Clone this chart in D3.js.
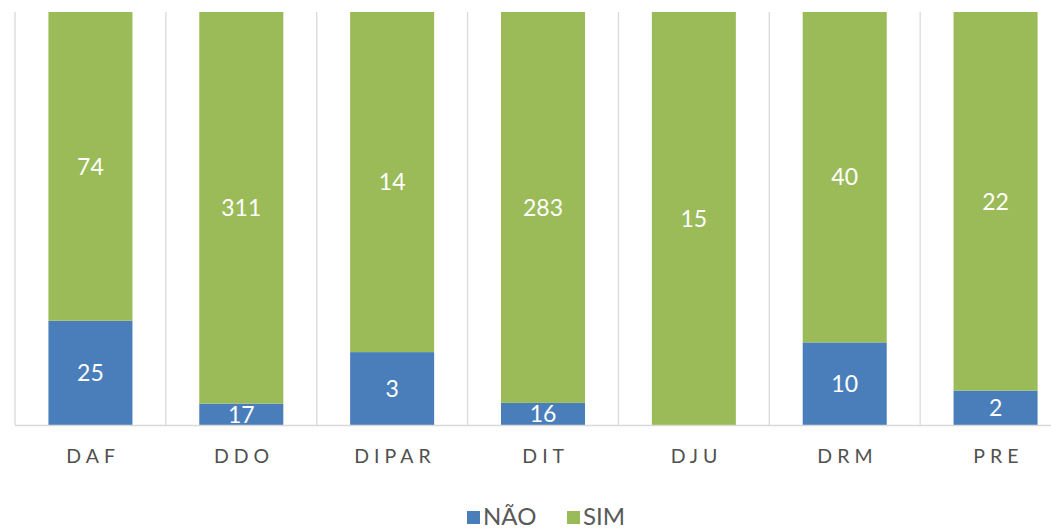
<!DOCTYPE html>
<html>
<head>
<meta charset="utf-8">
<script src="https://cdn.jsdelivr.net/npm/d3@7"></script>
<style>
  html, body { margin: 0; padding: 0; background: #ffffff; }
  svg { display: block; }
</style>
</head>
<body>
<svg id="chart" width="1051" height="529"></svg>
<script>
// Units and their answer counts
const categories = ["DAF", "DDO", "DIPAR", "DIT", "DJU", "DRM", "PRE"];
const naoValues  = [25, 17, 3, 16, 0, 10, 2];
const simValues  = [74, 311, 14, 283, 15, 40, 22];
const seriesNames = ["NÃO", "SIM"];
const seriesColors = ["#4A7EBB", "#9BBB59"];

const svg = d3.select("#chart");
const W = 1051, H = 529;
const plot = { left: 15, right: 1071, top: 12, bottom: 425 };

// Build 100% stacked rows
const rows = categories.map((c, i) => {
  const total = naoValues[i] + simValues[i];
  return { cat: c, "NÃO": naoValues[i], "SIM": simValues[i], total };
});
const stack = d3.stack()
  .keys(seriesNames)
  .value((d, k) => d[k] / d.total);
const layers = stack(rows);

const x = d3.scaleBand()
  .domain(categories)
  .range([plot.left, plot.right])
  .paddingInner(0.443)
  .paddingOuter(0.2215);

const y = d3.scaleLinear().domain([0, 1]).range([plot.bottom, plot.top]);
const color = d3.scaleOrdinal().domain(seriesNames).range(seriesColors);

// Vertical category separators
const step = x.step();
const sepX = d3.range(categories.length + 1).map(i => plot.left + i * step);
svg.append("g")
  .selectAll("line")
  .data(sepX)
  .join("line")
  .attr("x1", d => d).attr("x2", d => d)
  .attr("y1", plot.top).attr("y2", plot.bottom)
  .attr("stroke", "#d9d9d9").attr("stroke-width", 1.3);

// Bars
const gLayers = svg.append("g")
  .selectAll("g")
  .data(layers)
  .join("g")
  .attr("fill", d => color(d.key));

gLayers.selectAll("rect")
  .data(d => d.map(p => ({ p, key: d.key })))
  .join("rect")
  .attr("x", d => x(d.p.data.cat))
  .attr("width", x.bandwidth())
  .attr("y", d => y(d.p[1]))
  .attr("height", d => y(d.p[0]) - y(d.p[1]));

// Category axis
const xAxis = d3.axisBottom(x).tickSize(0).tickPadding(0);
const gx = svg.append("g")
  .attr("transform", `translate(0,${plot.bottom})`)
  .call(xAxis);
gx.select(".domain").remove();
svg.append("line")
  .attr("x1", plot.left).attr("x2", W)
  .attr("y1", plot.bottom + 0.5).attr("y2", plot.bottom + 0.5)
  .attr("stroke", "#d9d9d9").attr("stroke-width", 1.3);
gx.selectAll("text")
  .attr("y", 38)
  .attr("dy", 0)
  .attr("dx", "0.14em")
  .style("font-family", "Lato, 'Open Sans', sans-serif")
  .style("font-size", "19.5px")
  .style("letter-spacing", "5px")
  .style("fill", "#505050");

// Data labels inside each segment
const labelG = svg.append("g");
layers.forEach(layer => {
  labelG.selectAll(null)
    .data(layer.filter(p => p.data[layer.key] > 0))
    .join("text")
    .attr("x", p => x(p.data.cat) + x.bandwidth() / 2)
    .attr("y", p => (y(p[0]) + y(p[1])) / 2)
    .attr("dy", "0.36em")
    .attr("text-anchor", "middle")
    .style("font-family", "Lato, 'Open Sans', sans-serif")
    .style("font-size", "23px")
    .style("fill", "#ffffff")
    .text(p => p.data[layer.key]);
});

// Legend
const legend = svg.append("g").attr("transform", "translate(467,0)");
const legendItems = [
  { name: seriesNames[0], x: 0 },
  { name: seriesNames[1], x: 100 }
];
const li = legend.selectAll("g")
  .data(legendItems)
  .join("g")
  .attr("transform", d => `translate(${d.x},0)`);
li.append("rect")
  .attr("x", 0).attr("y", 511)
  .attr("width", 13).attr("height", 13)
  .attr("fill", d => color(d.name));
li.append("text")
  .attr("x", 16).attr("y", 525)
  .style("font-family", "Lato, 'Open Sans', sans-serif")
  .style("font-size", "24px")
  .style("fill", "#595959")
  .text(d => d.name);
</script>
</body>
</html>
